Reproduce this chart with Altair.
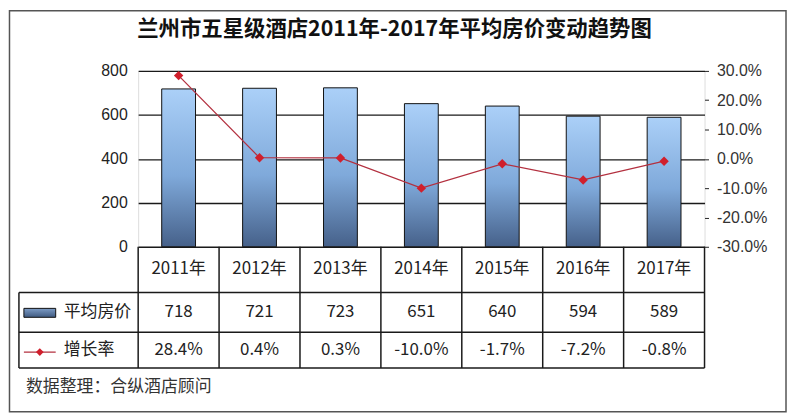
import altair as alt
import pandas as pd

# ---- data ----
years = ["2011年", "2012年", "2013年", "2014年", "2015年", "2016年", "2017年"]
prices = [718, 721, 723, 651, 640, 594, 589]
rates = [28.4, 0.4, 0.3, -10.0, -1.7, -7.2, -0.8]   # percent
left_ticks = [0, 200, 400, 600, 800]
right_ticks = [-30, -20, -10, 0, 10, 20, 30]

title_text = "兰州市五星级酒店2011年-2017年平均房价变动趋势图"
row_price = "平均房价"
row_rate = "增长率"
footer_text = "数据整理：合纵酒店顾问"

df = pd.DataFrame({
    "year": years,
    "price": prices,
    "rate": [r / 100 for r in rates],
    "rate_label": [f"{r:.1f}%" for r in rates],
})

# ---- layout (view pixel space) ----
W, H = 570, 177
n = len(years)
step = W / n
HEAD_BOT = 223
ROW1_BOT = 263
TABLE_BOT = 299
HDR_LEFT = -120

CJK = "Noto Sans CJK SC"
LINE_COLOR = "#b3303f"
POINT_COLOR = "#d01f2c"
GRID = "#1a1a1a"

xenc = alt.X("year:N", sort=years,
             scale=alt.Scale(paddingInner=0.582, paddingOuter=0.291),
             axis=None)

bar_grad = alt.Gradient(
    gradient="linear",
    stops=[alt.GradientStop(color="#abd0f8", offset=0),
           alt.GradientStop(color="#7fa9da", offset=0.55),
           alt.GradientStop(color="#46618a", offset=1)],
    x1=0, x2=0, y1=0, y2=1)

bars = alt.Chart(df).mark_bar(fill=bar_grad, stroke="#111", strokeWidth=1).encode(
    x=xenc,
    y=alt.Y("price:Q",
            scale=alt.Scale(domain=[0, 800], nice=False),
            axis=alt.Axis(values=left_ticks, title=None, orient="left",
                          grid=True, gridColor=GRID, gridWidth=1.4,
                          domain=False, ticks=False, tickSize=0,
                          labelPadding=11, labelFont="Liberation Sans",
                          labelFontSize=16, labelColor="#222")),
)

line = alt.Chart(df).mark_line(
    color=LINE_COLOR, strokeWidth=1.3,
    point=alt.OverlayMarkDef(shape="diamond", filled=True, color=POINT_COLOR, size=90),
).encode(
    x=xenc,
    y=alt.Y("rate:Q",
            scale=alt.Scale(domain=[-0.3, 0.3], nice=False),
            axis=alt.Axis(values=[v / 100 for v in right_ticks], title=None, orient="right",
                          grid=False, domain=False, ticks=True, tickSize=4,
                          tickColor="#222", labelPadding=8,
                          labelExpr="replace(format(datum.value, '.1%'), '\u2212', '-')",
                          labelFont="Liberation Sans", labelFontSize=16,
                          labelColor="#333")),
)

# table grid lines
segs = []
for k in range(n + 1):
    segs.append({"x": k * step, "x2": k * step, "y": H, "y2": TABLE_BOT})
segs.append({"x": HDR_LEFT, "x2": HDR_LEFT, "y": HEAD_BOT, "y2": TABLE_BOT})
for yy in (HEAD_BOT, ROW1_BOT, TABLE_BOT):
    segs.append({"x": HDR_LEFT, "x2": W, "y": yy, "y2": yy})
seg_df = pd.DataFrame(segs)

table_lines = alt.Chart(seg_df).mark_rule(color=GRID, strokeWidth=1.5).encode(
    x=alt.X("x:Q", scale=None), x2="x2:Q",
    y=alt.Y("y:Q", scale=None), y2="y2:Q",
)

txt = dict(font=CJK, fontSize=17, color="#222", baseline="middle", align="center")

head_txt = alt.Chart(df).mark_text(**txt).encode(x=xenc, y=alt.value(199), text="year:N")
price_txt = alt.Chart(df).mark_text(**txt).encode(x=xenc, y=alt.value(243), text="price:Q")
rate_txt = alt.Chart(df).mark_text(**txt).encode(x=xenc, y=alt.value(281), text="rate_label:N")

# row headers with legend icons
icon_bar = alt.Chart(df.head(1)).mark_rect(fill=alt.Gradient(
    gradient="linear",
    stops=[alt.GradientStop(color="#7d9cc6", offset=0),
           alt.GradientStop(color="#3f5a80", offset=1)],
    x1=0, x2=0, y1=0, y2=1), stroke="#111", strokeWidth=1).encode(
    x=alt.value(-115), x2=alt.value(-83), y=alt.value(239), y2=alt.value(248))
icon_line = alt.Chart(df.head(1)).mark_rule(color=LINE_COLOR, strokeWidth=1.3).encode(
    x=alt.value(-115), x2=alt.value(-83), y=alt.value(283))
icon_pt = alt.Chart(df.head(1)).mark_point(shape="diamond", filled=True, color=POINT_COLOR,
                                           size=60, opacity=1).encode(
    x=alt.value(-99), y=alt.value(283))
lab_price = alt.Chart(df.head(1)).mark_text(font=CJK, fontSize=17, color="#222",
                                            baseline="middle", align="left",
                                            text=row_price).encode(
    x=alt.value(-75), y=alt.value(243))
lab_rate = alt.Chart(df.head(1)).mark_text(font=CJK, fontSize=17, color="#222",
                                           baseline="middle", align="left",
                                           text=row_rate).encode(
    x=alt.value(-75), y=alt.value(281))

footer = alt.Chart(df.head(1)).mark_text(font=CJK, fontSize=17, color="#333",
                                         baseline="middle", align="left",
                                         text=footer_text).encode(
    x=alt.value(-113), y=alt.value(318))

title = alt.Chart(df.head(1)).mark_text(font=CJK, fontSize=21.5, fontWeight="bold",
                                        color="#111", baseline="middle", align="center",
                                        text=title_text).encode(
    x=alt.value(258), y=alt.value(-41))

frame = alt.Chart(df.head(1)).mark_rect(fill=None, stroke="#555", strokeWidth=1.5).encode(
    x=alt.value(-129.5), x2=alt.value(652), y=alt.value(-60.5), y2=alt.value(343))

chart = alt.layer(
    bars, line, table_lines, head_txt, price_txt, rate_txt,
    icon_bar, icon_line, icon_pt, lab_price, lab_rate, footer, title, frame,
).resolve_scale(y="independent").properties(
    width=W, height=H, padding=0,
).configure_view(stroke="#111", strokeWidth=1.5).configure(background="white")

chart.save("out.html", embed_options={"renderer": "svg", "actions": False})
